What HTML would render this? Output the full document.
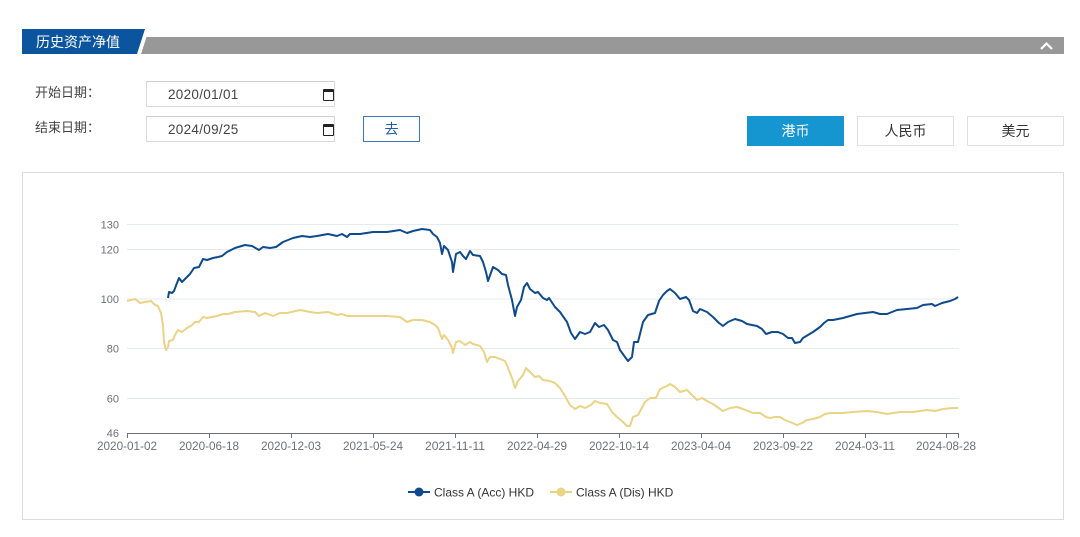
<!DOCTYPE html>
<html>
<head>
<meta charset="utf-8">
<style>
  html,body{margin:0;padding:0;background:#fff;}
  body{width:1080px;height:537px;position:relative;overflow:hidden;
       font-family:"Liberation Sans","Noto Sans CJK SC",sans-serif;}
  .abs{position:absolute;}
  .lbl{font-size:13px;color:#444;line-height:16px;}
  .inp{border:1px solid #d9d9d9;border-top-color:#cfcfcf;background:#fff;box-sizing:border-box;}
  .inp span{position:absolute;left:21px;top:5px;font-size:13.5px;color:#444;letter-spacing:0.3px;}
  .cal{position:absolute;left:176px;top:7px;width:9px;height:8px;border:1.5px solid #222;border-top-width:3px;border-radius:1px;}
  .btn{box-sizing:border-box;text-align:center;font-size:14px;}
</style>
</head>
<body>
<!-- Header bar -->
<svg class="abs" style="left:0;top:0" width="1080" height="60">
  <polygon points="22,29 145,29 137,54 22,54" fill="#0b559e"/>
  <polygon points="146.5,37 1064,37 1064,54 141,54" fill="#989898"/>
  <polyline points="1041,49 1046.5,43.5 1052,49" fill="none" stroke="#fff" stroke-width="2.2"/>
</svg>
<div class="abs" style="left:36px;top:33px;font-size:14px;color:#fff;line-height:18px;">历史资产净值</div>

<!-- Form -->
<div class="abs lbl" style="left:35px;top:85px;">开始日期：</div>
<div class="abs lbl" style="left:35px;top:120px;">结束日期：</div>
<div class="abs inp" style="left:146px;top:81px;width:189px;height:26px;"><span>2020/01/01</span><div class="cal"></div></div>
<div class="abs inp" style="left:146px;top:116px;width:189px;height:26px;"><span>2024/09/25</span><div class="cal"></div></div>
<div class="abs btn" style="left:363px;top:116px;width:57px;height:26px;border:1px solid #3b78bb;color:#1d5aa8;line-height:24px;">去</div>

<div class="abs btn" style="left:747px;top:116px;width:97px;height:30px;background:#1596d0;color:#fff;line-height:30px;">港币</div>
<div class="abs btn" style="left:857px;top:116px;width:97px;height:30px;border:1px solid #e0e0e0;color:#333;line-height:28px;">人民币</div>
<div class="abs btn" style="left:967px;top:116px;width:97px;height:30px;border:1px solid #e0e0e0;color:#333;line-height:28px;">美元</div>

<!-- Chart box -->
<div class="abs" style="left:22px;top:172px;width:1042px;height:348px;border:1px solid #dcdcdc;box-sizing:border-box;"></div>

<svg class="abs" style="left:0;top:0" width="1080" height="537" font-family="Liberation Sans, sans-serif">
  <!-- grid -->
  <g stroke="#e6ebf3" stroke-width="1">
    <line x1="127" y1="224.5" x2="959" y2="224.5"/>
    <line x1="127" y1="249.5" x2="959" y2="249.5"/>
    <line x1="127" y1="299" x2="959" y2="299"/>
    <line x1="127" y1="348.5" x2="959" y2="348.5"/>
    <line x1="127" y1="398.5" x2="959" y2="398.5"/>
  </g>
  <!-- axis -->
  <g stroke="#6e7079" stroke-width="1">
    <line x1="127" y1="433.5" x2="959" y2="433.5"/>
    <line x1="127.5" y1="433" x2="127.5" y2="438"/>
    <line x1="209.5" y1="433" x2="209.5" y2="438"/>
    <line x1="291.5" y1="433" x2="291.5" y2="438"/>
    <line x1="373.5" y1="433" x2="373.5" y2="438"/>
    <line x1="455.5" y1="433" x2="455.5" y2="438"/>
    <line x1="537.5" y1="433" x2="537.5" y2="438"/>
    <line x1="619.5" y1="433" x2="619.5" y2="438"/>
    <line x1="701.5" y1="433" x2="701.5" y2="438"/>
    <line x1="783.5" y1="433" x2="783.5" y2="438"/>
    <line x1="865.5" y1="433" x2="865.5" y2="438"/>
    <line x1="946.5" y1="433" x2="946.5" y2="438"/>
    <line x1="958.5" y1="433" x2="958.5" y2="438"/>
  </g>
  <!-- y labels -->
  <g fill="#6e7079" font-size="11" text-anchor="end">
    <text x="119" y="228.5">130</text>
    <text x="119" y="253.5">120</text>
    <text x="119" y="303">100</text>
    <text x="119" y="352.5">80</text>
    <text x="119" y="402.5">60</text>
    <text x="119" y="437">46</text>
  </g>
  <!-- x labels -->
  <g fill="#6e7079" font-size="11.5" text-anchor="middle">
    <text x="127" y="450" textLength="60" lengthAdjust="spacingAndGlyphs">2020-01-02</text>
    <text x="209" y="450" textLength="60" lengthAdjust="spacingAndGlyphs">2020-06-18</text>
    <text x="291" y="450" textLength="60" lengthAdjust="spacingAndGlyphs">2020-12-03</text>
    <text x="373" y="450" textLength="60" lengthAdjust="spacingAndGlyphs">2021-05-24</text>
    <text x="455" y="450" textLength="60" lengthAdjust="spacingAndGlyphs">2021-11-11</text>
    <text x="537" y="450" textLength="60" lengthAdjust="spacingAndGlyphs">2022-04-29</text>
    <text x="619" y="450" textLength="60" lengthAdjust="spacingAndGlyphs">2022-10-14</text>
    <text x="701" y="450" textLength="60" lengthAdjust="spacingAndGlyphs">2023-04-04</text>
    <text x="783" y="450" textLength="60" lengthAdjust="spacingAndGlyphs">2023-09-22</text>
    <text x="865" y="450" textLength="60" lengthAdjust="spacingAndGlyphs">2024-03-11</text>
    <text x="946" y="450" textLength="60" lengthAdjust="spacingAndGlyphs">2024-08-28</text>
  </g>

  <!-- Yellow series: Class A (Dis) HKD -->
  <polyline fill="none" stroke="#ead385" stroke-width="2" stroke-linejoin="round" points="
127,301 135,299 140,303 145,302 151,301 155,305 158,306 161,313 163,325 164,342 166,350 168,347 169,341 173,340 175,335 178,330 182,332 187,328 192,325 195,322 199,322 203,317 207,318 212,317 217,316 223,314 228,314 235,312 247,311 255,312 259,316 265,313 273,316 280,313 287,313 300,310 310,312 317,313 328,312 337,315 342,314 347,316 360,316 373,316 387,316 400,317 407,322 413,320 422,320 430,322 435,325 438,328 442,339 444,335 448,340 452,348 453,353 456,342 460,341 465,345 470,342 473,344 480,346 484,352 487,362 490,357 495,357 500,359 505,361 508,368 512,378 515,388 518,381 523,375 526,368 530,372 535,377 539,376 543,380 550,381 555,383 560,388 565,396 570,405 575,409 580,406 585,408 591,405 595,401 600,403 607,404 612,412 617,417 622,421 627,426 630,426 633,417 638,415 645,402 650,398 656,398 660,389 667,386 670,384 675,387 680,392 687,390 692,395 697,400 702,398 707,401 713,404 720,409 723,411 730,408 737,407 743,409 748,411 753,413 760,413 766,417 770,418 775,417 780,417 785,420 790,422 797,425 802,423 807,420 813,419 820,417 825,414 830,413 837,413 843,413 853,412 867,411 877,412 887,414 893,413 900,412 913,412 927,410 935,411 943,409 953,408 958,408"/>

  <!-- Blue series: Class A (Acc) HKD -->
  <polyline fill="none" stroke="#0f4a8c" stroke-width="2" stroke-linejoin="round" points="
168,298 169,292 172,293 174,291 177,283 179,278 182,282 185,279 190,274 194,268 199,267 203,259 207,260 213,258 218,257 222,256 227,252 235,248 245,245 252,246 259,250 263,247 270,248 276,247 283,242 293,238 302,236 310,237 317,236 328,234 337,236 342,234 347,237 350,234 360,234 373,232 387,232 400,230 407,233 413,231 422,229 430,230 433,234 437,237 440,243 442,254 444,246 448,250 452,262 453,272 456,254 460,252 463,256 466,259 470,251 473,255 480,256 483,262 486,272 488,281 493,267 498,270 502,274 506,275 508,285 512,300 515,316 517,307 521,300 524,287 527,283 530,289 535,293 538,292 543,298 547,300 549,298 555,307 560,312 567,322 571,333 575,339 580,332 585,334 590,332 595,323 599,327 604,325 608,330 613,340 617,342 620,350 625,357 628,361 632,357 634,342 638,342 643,322 648,315 655,313 659,301 663,295 667,291 670,289 675,293 680,299 686,297 689,300 693,311 697,313 700,309 707,312 713,317 719,323 723,326 728,322 735,319 742,321 747,324 752,325 757,326 762,329 766,334 772,332 778,332 783,334 788,338 792,338 795,343 800,342 803,338 808,335 813,332 820,327 824,323 828,320 833,320 838,319 843,318 850,316 857,314 865,313 873,312 880,314 887,314 892,312 897,310 907,309 917,308 923,305 932,304 935,306 942,303 950,301 955,299 958,297"/>

  <!-- Legend -->
  <line x1="408" y1="492" x2="430" y2="492" stroke="#0f4a8c" stroke-width="2"/>
  <circle cx="419" cy="492" r="4.5" fill="#0f4a8c"/>
  <text x="434" y="496.5" font-size="12" fill="#333">Class A (Acc) HKD</text>
  <line x1="550" y1="492" x2="572" y2="492" stroke="#ead385" stroke-width="2"/>
  <circle cx="561" cy="492" r="4.5" fill="#ead385"/>
  <text x="576" y="496.5" font-size="12" fill="#333">Class A (Dis) HKD</text>
</svg>
</body>
</html>
